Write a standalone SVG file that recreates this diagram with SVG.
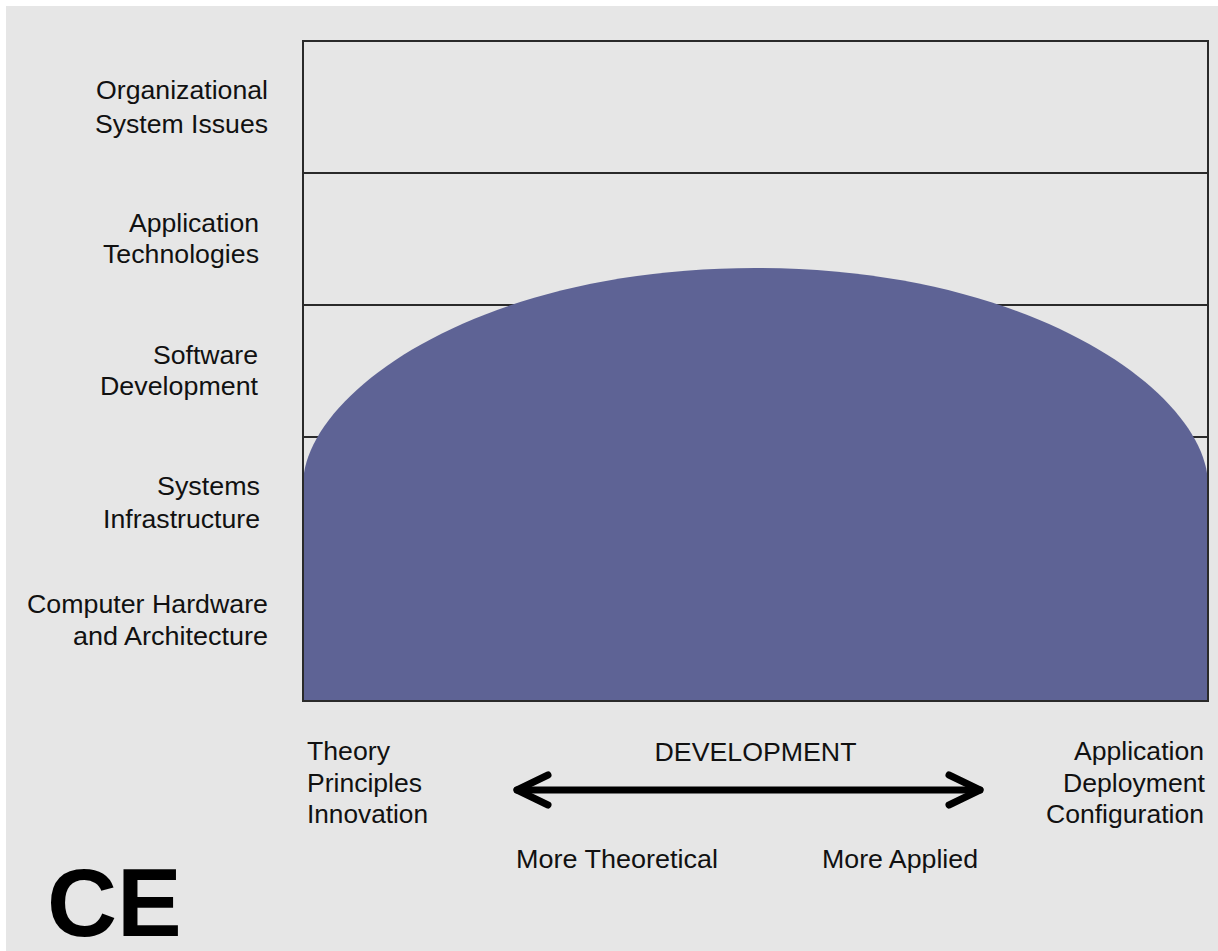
<svg xmlns="http://www.w3.org/2000/svg" width="1218" height="951" viewBox="0 0 1218 951">
  <style>
    .lbl { font-family: "Liberation Sans", Arial, sans-serif; font-size: 26px; fill: #111111; }
    .end { text-anchor: end; }
    .mid { text-anchor: middle; }
    .grid { stroke: #2a2a2a; stroke-width: 2; fill: none; }
    .big { font-family: "Liberation Sans", Arial, sans-serif; font-size: 97px; font-weight: bold; fill: #000000; }
    .arrow { stroke: #000000; stroke-width: 7; fill: none; stroke-linecap: round; stroke-linejoin: round; }
  </style>
  <rect x="0" y="0" width="1218" height="951" fill="#ffffff"/>
  <rect id="background" x="6" y="6" width="1212" height="945" fill="#e6e6e6"/>

  <g id="grid">
    <line class="grid" x1="303" y1="173" x2="1208" y2="173"/>
    <line class="grid" x1="303" y1="305" x2="1208" y2="305"/>
    <line class="grid" x1="303" y1="437" x2="1208" y2="437"/>
  </g>

  <g id="dome">
    <path d="M303,485 C303,395 475,268 755.5,268 C1036,268 1208,395 1208,485 L1208,701 L303,701 Z" fill="#5e6395"/>
  </g>

  <g id="frame">
    <rect class="grid" x="303" y="41" width="905" height="660"/>
  </g>

  <g id="layer-organizational">
    <text class="lbl end" x="268" y="99" textLength="172" lengthAdjust="spacingAndGlyphs">Organizational</text>
    <text class="lbl end" x="268" y="133" textLength="173" lengthAdjust="spacingAndGlyphs">System Issues</text>
  </g>
  <g id="layer-application">
    <text class="lbl end" x="259" y="232" textLength="130" lengthAdjust="spacingAndGlyphs">Application</text>
    <text class="lbl end" x="259" y="263" textLength="156" lengthAdjust="spacingAndGlyphs">Technologies</text>
  </g>
  <g id="layer-software">
    <text class="lbl end" x="258" y="364" textLength="105" lengthAdjust="spacingAndGlyphs">Software</text>
    <text class="lbl end" x="258" y="395" textLength="158" lengthAdjust="spacingAndGlyphs">Development</text>
  </g>
  <g id="layer-systems">
    <text class="lbl end" x="260" y="495" textLength="103" lengthAdjust="spacingAndGlyphs">Systems</text>
    <text class="lbl end" x="260" y="528" textLength="157" lengthAdjust="spacingAndGlyphs">Infrastructure</text>
  </g>
  <g id="layer-hardware">
    <text class="lbl end" x="268" y="613" textLength="241" lengthAdjust="spacingAndGlyphs">Computer Hardware</text>
    <text class="lbl end" x="268" y="645" textLength="195" lengthAdjust="spacingAndGlyphs">and Architecture</text>
  </g>

  <g id="axis-left">
    <text class="lbl" x="307" y="760" textLength="83" lengthAdjust="spacingAndGlyphs">Theory</text>
    <text class="lbl" x="307" y="791.5" textLength="115" lengthAdjust="spacingAndGlyphs">Principles</text>
    <text class="lbl" x="307" y="823" textLength="121" lengthAdjust="spacingAndGlyphs">Innovation</text>
  </g>
  <g id="axis-right">
    <text class="lbl end" x="1204" y="760" textLength="130" lengthAdjust="spacingAndGlyphs">Application</text>
    <text class="lbl end" x="1205" y="791.5" textLength="142" lengthAdjust="spacingAndGlyphs">Deployment</text>
    <text class="lbl end" x="1204" y="823" textLength="158" lengthAdjust="spacingAndGlyphs">Configuration</text>
  </g>
  <g id="axis-title">
    <text class="lbl mid" x="755.5" y="761" textLength="202" lengthAdjust="spacingAndGlyphs">DEVELOPMENT</text>
    <text class="lbl" x="516" y="868" textLength="202" lengthAdjust="spacingAndGlyphs">More Theoretical</text>
    <text class="lbl" x="822" y="868" textLength="156" lengthAdjust="spacingAndGlyphs">More Applied</text>
  </g>

  <g id="connectors">
    <line class="arrow" x1="517" y1="790" x2="980" y2="790"/>
    <polyline class="arrow" points="548,775 517,790 548,805"/>
    <polyline class="arrow" points="949,775 980,790 949,805"/>
  </g>

  <g id="badge">
    <text class="big" x="47" y="936">CE</text>
  </g>
</svg>
